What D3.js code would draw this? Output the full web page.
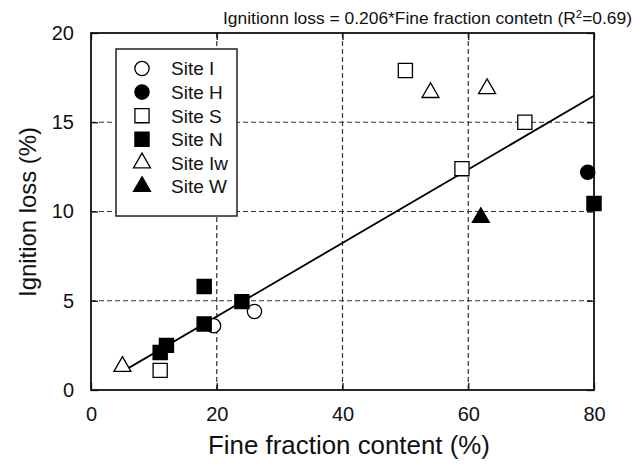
<!DOCTYPE html>
<html>
<head>
<meta charset="utf-8">
<script src="https://cdn.jsdelivr.net/npm/d3@7"></script>
<style>
  body { margin: 0; background: #fff; }
  text { font-family: "Liberation Sans", Arial, sans-serif; fill: #111; }
</style>
</head>
<body>
<div id="chart"></div>
<script>
// data
var siteI_x = [19.5, 26], siteI_y = [3.6, 4.4];
var siteH_x = [79], siteH_y = [12.2];
var siteS_x = [11, 50, 59, 69], siteS_y = [1.1, 17.9, 12.4, 15.0];
var siteN_x = [11, 12, 18, 18, 24, 80], siteN_y = [2.1, 2.5, 3.7, 5.8, 4.95, 10.45];
var siteIw_x = [5, 54, 63], siteIw_y = [1.32, 16.66, 16.88];
var siteW_x = [62], siteW_y = [9.66];

var xTicks = [0, 20, 40, 60, 80];
var yTicks = [0, 5, 10, 15, 20];
var slope = 0.206;
var fitRange = [5, 80];

var sites = [
  {name: "Site I",  xs: siteI_x,  ys: siteI_y,  shape: "circle",   fill: "#fff"},
  {name: "Site H",  xs: siteH_x,  ys: siteH_y,  shape: "circle",   fill: "#000"},
  {name: "Site S",  xs: siteS_x,  ys: siteS_y,  shape: "square",   fill: "#fff"},
  {name: "Site N",  xs: siteN_x,  ys: siteN_y,  shape: "square",   fill: "#000"},
  {name: "Site Iw", xs: siteIw_x, ys: siteIw_y, shape: "triangle", fill: "#fff"},
  {name: "Site W",  xs: siteW_x,  ys: siteW_y,  shape: "triangle", fill: "#000"}
];

var width = 642, height = 468;
var m = {t: 33, r: 48, b: 78, l: 91};
var w = width - m.l - m.r, h = height - m.t - m.b;

var svg = d3.select("#chart").append("svg")
  .attr("width", width).attr("height", height);

var x = d3.scaleLinear().domain([0, 80]).range([m.l, m.l + w]);
var y = d3.scaleLinear().domain([0, 20]).range([m.t + h, m.t]);

function symbolFor(shape) {
  var s = shape == "circle" ? d3.symbolCircle : shape == "square" ? d3.symbolSquare : d3.symbolTriangle;
  var size = shape == "circle" ? 160 : shape == "square" ? 200 : 125;
  return d3.symbol().type(s).size(size)();
}

// dashed grid
svg.append("g").selectAll("line").data(xTicks.slice(1, -1)).enter().append("line")
  .attr("x1", d => x(d)).attr("x2", d => x(d))
  .attr("y1", y(20)).attr("y2", y(0))
  .attr("stroke", "#333").attr("stroke-width", 1.2).attr("stroke-dasharray", "5,3");
svg.append("g").selectAll("line").data(yTicks.slice(1, -1)).enter().append("line")
  .attr("y1", d => y(d)).attr("y2", d => y(d))
  .attr("x1", x(0)).attr("x2", x(80))
  .attr("stroke", "#333").attr("stroke-width", 1.2).attr("stroke-dasharray", "5,3");

// axes (inward ticks on all four sides)
var tick = 7;
svg.append("g").attr("transform", "translate(0," + y(0) + ")")
  .call(d3.axisBottom(x).tickValues(xTicks).tickSize(-tick).tickPadding(17).tickSizeOuter(0));
svg.append("g").attr("transform", "translate(0," + y(20) + ")")
  .call(d3.axisTop(x).tickValues(xTicks).tickSize(-tick).tickFormat("").tickSizeOuter(0));
svg.append("g").attr("transform", "translate(" + x(0) + ",0)")
  .call(d3.axisLeft(y).tickValues(yTicks).tickSize(-tick).tickPadding(17).tickSizeOuter(0));
svg.append("g").attr("transform", "translate(" + x(80) + ",0)")
  .call(d3.axisRight(y).tickValues(yTicks).tickSize(-tick).tickFormat("").tickSizeOuter(0));

svg.selectAll(".domain").remove();
svg.selectAll(".tick line").attr("stroke", "#111").attr("stroke-width", 1.3);
svg.selectAll(".tick text").style("font-size", "20px").style("font-family", "Liberation Sans, Arial, sans-serif").attr("fill", "#111");

// frame
svg.append("rect").attr("x", x(0)).attr("y", y(20)).attr("width", w).attr("height", h)
  .attr("fill", "none").attr("stroke", "#111").attr("stroke-width", 1.8);

// fitted line
svg.append("line")
  .attr("x1", x(fitRange[0])).attr("y1", y(slope * fitRange[0]))
  .attr("x2", x(fitRange[1])).attr("y2", y(slope * fitRange[1]))
  .attr("stroke", "#000").attr("stroke-width", 1.8);

// points
sites.forEach(function(s) {
  svg.append("g").selectAll("path").data(s.xs).enter().append("path")
    .attr("d", symbolFor(s.shape))
    .attr("transform", (d, i) => "translate(" + x(d) + "," + y(s.ys[i]) + ")")
    .attr("fill", s.fill).attr("stroke", "#000").attr("stroke-width", 1.3);
});

// legend
var lg = svg.append("g");
lg.append("rect").attr("x", 116).attr("y", 49).attr("width", 121).attr("height", 167)
  .attr("fill", "#fff").attr("stroke", "#222").attr("stroke-width", 1.5);
sites.forEach(function(s, i) {
  var cy = 68.5 + i * 23.6;
  lg.append("path").attr("d", symbolFor(s.shape))
    .attr("transform", "translate(142," + cy + ")")
    .attr("fill", s.fill).attr("stroke", "#000").attr("stroke-width", 1.3);
  lg.append("text").attr("x", 171).attr("y", cy).attr("dy", "0.36em")
    .style("font-size", "19px").text(s.name);
});

// titles
svg.append("text").attr("x", 349).attr("y", 454).attr("text-anchor", "middle")
  .style("font-size", "25px").attr("textLength", 282).attr("lengthAdjust", "spacingAndGlyphs")
  .text("Fine fraction content (%)");

svg.append("text").attr("transform", "translate(36,212) rotate(-90)").attr("text-anchor", "middle")
  .style("font-size", "24px").attr("textLength", 170).attr("lengthAdjust", "spacingAndGlyphs")
  .text("Ignition loss (%)");

var t = svg.append("text").attr("x", 223).attr("y", 24)
  .style("font-size", "17px").attr("textLength", 409).attr("lengthAdjust", "spacingAndGlyphs");
t.append("tspan").text("Ignitionn loss = 0.206*Fine fraction contetn (R");
t.append("tspan").attr("dy", -6).style("font-size", "11px").text("2");
t.append("tspan").attr("dy", 6).text("=0.69)");
</script>
</body>
</html>
